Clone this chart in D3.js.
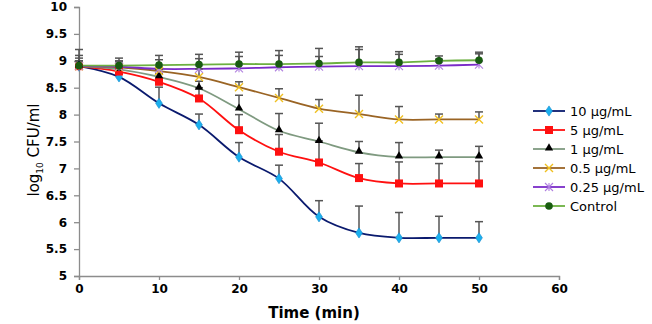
<!DOCTYPE html>
<html>
<head>
<meta charset="utf-8">
<script src="https://cdn.jsdelivr.net/npm/d3@7"></script>
<style>
  body { margin: 0; background: #fff; }
  svg { display: block; font-family: "DejaVu Sans", Arial, sans-serif; }
</style>
</head>
<body>
<div id="chart"></div>
<script>
// time points (min)
const times = [0, 5, 10, 15, 20, 25, 30, 35, 40, 45, 50];

// log10 CFU/ml per treatment
const conc10 = [8.9, 8.7, 8.21, 7.81, 7.21, 6.81, 6.1, 5.8, 5.71, 5.71, 5.71];
const conc5 = [8.9, 8.8, 8.61, 8.3, 7.71, 7.31, 7.11, 6.82, 6.72, 6.72, 6.72];
const conc1 = [8.9, 8.84, 8.7, 8.49, 8.1, 7.7, 7.5, 7.3, 7.21, 7.21, 7.21];
const conc05 = [8.9, 8.88, 8.81, 8.7, 8.51, 8.31, 8.11, 8.01, 7.91, 7.91, 7.91];
const conc025 = [8.9, 8.89, 8.85, 8.85, 8.86, 8.88, 8.89, 8.9, 8.9, 8.91, 8.93];
const control = [8.91, 8.91, 8.92, 8.93, 8.94, 8.94, 8.95, 8.97, 8.97, 9.0, 9.01];

// upper error bars (SD)
const sd10 = [0.1, 0.1, 0.3, 0.2, 0.27, 0.25, 0.3, 0.5, 0.47, 0.4, 0.3];
const sd5 = [0.1, 0.1, 0.15, 0.2, 0.29, 0.32, 0.4, 0.27, 0.4, 0.37, 0.41];
const sd1 = [0.1, 0.1, 0.14, 0.13, 0.26, 0.32, 0.34, 0.2, 0.27, 0.13, 0.2];
const sd05 = [0.15, 0.1, 0.1, 0.15, 0.1, 0.17, 0.17, 0.35, 0.24, 0.1, 0.14];
const sd025 = [0.2, 0.11, 0.17, 0.19, 0.22, 0.22, 0.19, 0.31, 0.22, 0.12, 0.2];
const sdControl = [0.3, 0.14, 0.18, 0.19, 0.22, 0.25, 0.28, 0.29, 0.2, 0.09, 0.15];

const seriesNames = ["10 µg/mL", "5 µg/mL", "1 µg/mL", "0.5 µg/mL", "0.25 µg/mL", "Control"];
const xTicks = [0, 10, 20, 30, 40, 50, 60];
const yTicks = [5, 5.5, 6, 6.5, 7, 7.5, 8, 8.5, 9, 9.5, 10];

const series = [
  {name: seriesNames[0], values: conc10, sd: sd10, line: "#0a1a6e", fill: "#1ab0ee", stroke: "#1a8fd0", shape: "diamond"},
  {name: seriesNames[1], values: conc5, sd: sd5, line: "#ff1010", fill: "#ff1010", stroke: "#e01010", shape: "square"},
  {name: seriesNames[2], values: conc1, sd: sd1, line: "#7f9a80", fill: "#000", stroke: "#000", shape: "triangle"},
  {name: seriesNames[3], values: conc05, sd: sd05, line: "#9a6424", fill: "none", stroke: "#f0c020", shape: "x"},
  {name: seriesNames[4], values: conc025, sd: sd025, line: "#7a2cc8", fill: "none", stroke: "#b080e0", shape: "star"},
  {name: seriesNames[5], values: control, sd: sdControl, line: "#6cb040", fill: "#185c10", stroke: "#185c10", shape: "circle"}
];

const width = 652, height = 324;
const svg = d3.select("#chart").append("svg")
  .attr("width", width)
  .attr("height", height);

svg.append("rect").attr("width", width).attr("height", height).attr("fill", "#fff");

const x = d3.scaleLinear().domain([0, 60]).range([79, 559]);
const y = d3.scaleLinear().domain([5, 10]).range([276, 7]);

// axes
const xAxis = svg.append("g")
  .attr("transform", `translate(0,${y(5)})`)
  .call(d3.axisBottom(x).tickValues(xTicks).tickSize(4).tickPadding(4).tickFormat(d3.format("d")));
const yAxis = svg.append("g")
  .attr("transform", `translate(${x(0)},0)`)
  .call(d3.axisLeft(y).tickValues(yTicks).tickSize(5).tickPadding(7).tickFormat(d => d));

[xAxis, yAxis].forEach(g => {
  g.select(".domain").attr("stroke", "#8c8c8c").attr("stroke-width", 1.3);
  g.selectAll(".tick line").attr("stroke", "#8c8c8c").attr("stroke-width", 1.3);
  g.selectAll("text")
    .attr("fill", "#000")
    .style("font-size", "12px")
    .style("font-weight", "bold")
    .style("font-family", "'DejaVu Sans', sans-serif");
});

// axis titles
svg.append("text")
  .attr("x", 314).attr("y", 318)
  .attr("text-anchor", "middle")
  .style("font-size", "15px").style("font-weight", "bold")
  .text("Time (min)");

const yTitle = svg.append("text")
  .attr("transform", "translate(39,150) rotate(-90)")
  .attr("text-anchor", "middle")
  .style("font-size", "15px");
yTitle.append("tspan").text("log");
yTitle.append("tspan").attr("dy", 4).style("font-size", "9px").text("10");
yTitle.append("tspan").attr("dy", -4).text(" CFU/ml");

// line generator (Excel style smoothed)
const line = d3.line()
  .x((d, i) => x(times[i]))
  .y(d => y(d))
  .curve(d3.curveCatmullRom.alpha(0.5));

const plot = svg.append("g");

series.forEach(s => {
  plot.append("path")
    .datum(s.values)
    .attr("fill", "none")
    .attr("stroke", s.line)
    .attr("stroke-width", 1.8)
    .attr("d", line);
});

// error bars (upper only)
series.forEach(s => {
  const g = plot.append("g").attr("stroke", "#555").attr("stroke-width", 1.5);
  s.values.forEach((v, i) => {
    const cx = x(times[i]);
    const top = y(v + s.sd[i]);
    g.append("line").attr("x1", cx).attr("x2", cx).attr("y1", y(v)).attr("y2", top);
    g.append("line").attr("x1", cx - 4).attr("x2", cx + 4).attr("y1", top).attr("y2", top);
  });
});

function drawMarker(g, s, cx, cy) {
  if (s.shape === "diamond") {
    g.append("path").attr("d", d3.symbol(d3.symbolDiamond, 30)())
      .attr("transform", `translate(${cx},${cy}) scale(1.15,1)`)
      .attr("fill", s.fill).attr("stroke", s.stroke).attr("stroke-width", 0.6);
  } else if (s.shape === "square") {
    g.append("rect").attr("x", cx - 4).attr("y", cy - 4).attr("width", 8).attr("height", 8)
      .attr("fill", s.fill);
  } else if (s.shape === "triangle") {
    g.append("path").attr("d", d3.symbol(d3.symbolTriangle, 30)())
      .attr("transform", `translate(${cx},${cy - 1})`)
      .attr("fill", s.fill);
  } else if (s.shape === "x") {
    g.append("path").attr("d", `M${cx - 4},${cy - 4}L${cx + 4},${cy + 4}M${cx - 4},${cy + 4}L${cx + 4},${cy - 4}`)
      .attr("stroke", s.stroke).attr("stroke-width", 1.4).attr("fill", "none");
  } else if (s.shape === "star") {
    g.append("path").attr("d", `M${cx - 4},${cy - 4}L${cx + 4},${cy + 4}M${cx - 4},${cy + 4}L${cx + 4},${cy - 4}M${cx},${cy - 4}L${cx},${cy + 4}`)
      .attr("stroke", s.stroke).attr("stroke-width", 1.1).attr("fill", "none");
  } else if (s.shape === "circle") {
    g.append("circle").attr("cx", cx).attr("cy", cy).attr("r", 3.8).attr("fill", s.fill);
  }
}

series.forEach(s => {
  const g = plot.append("g");
  s.values.forEach((v, i) => drawMarker(g, s, x(times[i]), y(v)));
});

// legend
const legend = svg.append("g");
series.forEach((s, i) => {
  const ly = 111 + i * 19;
  const g = legend.append("g");
  g.append("line").attr("x1", 533).attr("x2", 565).attr("y1", ly).attr("y2", ly)
    .attr("stroke", s.line).attr("stroke-width", 1.8);
  drawMarker(g, s, 549, ly);
  g.append("text").attr("x", 570).attr("y", ly + 4.5)
    .style("font-size", "13px")
    .text(s.name);
});
</script>
</body>
</html>
